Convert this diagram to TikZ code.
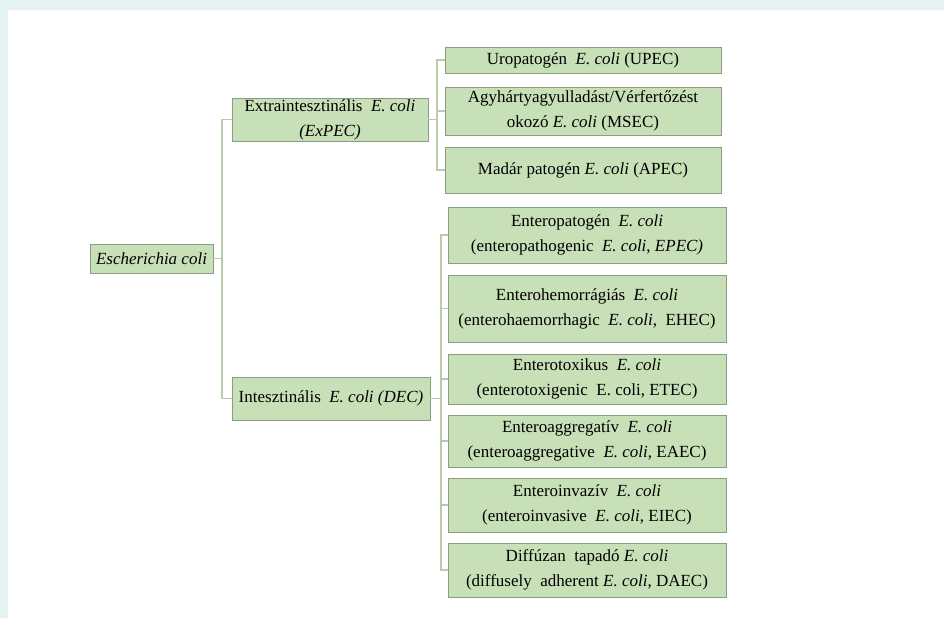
\documentclass[tikz,border=0pt]{standalone}
\usepackage{fontspec}
\setmainfont{Liberation Serif}
\usetikzlibrary{shadows}
\definecolor{bgband}{HTML}{E4F2F2}
\definecolor{boxfill}{HTML}{C8E0B7}
\definecolor{boxline}{HTML}{8C9C80}
\definecolor{linkc}{HTML}{B8CBAD}
\tikzset{
  gbox/.style={draw=boxline, line width=0.9pt, fill=boxfill, align=center, inner sep=0pt,
    font=\fontsize{17}{25}\selectfont,
    drop shadow={shadow xshift=1.2pt, shadow yshift=-1.2pt, opacity=0.18, fill=black}},
  link/.style={draw=linkc, line width=1.4pt}
}
\begin{document}
\begin{tikzpicture}[x=1pt,y=-1pt]
\useasboundingbox (0,0) rectangle (944,618);
\fill[white] (0,0) rectangle (944,618);
\fill[bgband] (0,0) rectangle (944,10);
\fill[bgband] (0,0) rectangle (8,618);

% nodes
\node[gbox, minimum width=123pt, minimum height=29pt] (ec) at (151.5,258.5) {\textit{Escherichia coli}};
\node[gbox, minimum width=196pt, minimum height=43pt] (ex) at (330,119.5) {Extraintesztinális\ \ \textit{E. coli}\\\textit{(ExPEC)}};
\node[gbox, minimum width=198pt, minimum height=43pt] (in) at (331,398.5) {Intesztinális\ \ \textit{E. coli (DEC)}};

\node[gbox, minimum width=276pt, minimum height=26pt] (u1) at (583,60) {Uropatogén\ \ \textit{E. coli} (UPEC)};
\node[gbox, minimum width=276pt, minimum height=48pt] (u2) at (583,111) {Agyhártyagyulladást/Vérfertőzést\\okozó \textit{E. coli} (MSEC)};
\node[gbox, minimum width=276pt, minimum height=46pt] (u3) at (583,170) {Madár patogén \textit{E. coli} (APEC)};

\node[gbox, minimum width=278pt, minimum height=56pt] (d1) at (587,235) {Enteropatogén\ \ \textit{E. coli}\\(enteropathogenic\ \ \textit{E. coli}, \textit{EPEC)}};
\node[gbox, minimum width=278pt, minimum height=67pt] (d2) at (587,308.5) {Enterohemorrágiás\ \ \textit{E. coli}\\(enterohaemorrhagic\ \ \textit{E. coli},\ \ EHEC)};
\node[gbox, minimum width=278pt, minimum height=50pt] (d3) at (587,379) {Enterotoxikus\ \ \textit{E. coli}\\(enterotoxigenic\ \ E. coli, ETEC)};
\node[gbox, minimum width=278pt, minimum height=52pt] (d4) at (587,441) {Enteroaggregatív\ \ \textit{E. coli}\\(enteroaggregative\ \ \textit{E. coli}, EAEC)};
\node[gbox, minimum width=278pt, minimum height=54pt] (d5) at (587,505) {Enteroinvazív\ \ \textit{E. coli}\\(enteroinvasive\ \ \textit{E. coli}, EIEC)};
\node[gbox, minimum width=278pt, minimum height=54pt] (d6) at (587,570) {Diffúzan\ \ tapadó \textit{E. coli}\\(diffusely\ \ adherent \textit{E. coli}, DAEC)};

% connectors
\begin{scope}[on background layer/.style={}]
\coordinate (t1) at (222,0);
\draw[link] (ec.east) -- (t1 |- ec.east);
\draw[link] (ex.west) -| (t1 |- in.west) -- (in.west);

\coordinate (t2) at (437,0);
\draw[link] (ex.east) -- (t2 |- ex.east);
\draw[link] (u1.west) -| (t2 |- u3.west) -- (u3.west);
\draw[link] (u2.west) -- (t2 |- u2.west);

\coordinate (t3) at (441,0);
\draw[link] (in.east) -- (t3 |- in.east);
\draw[link] (d1.west) -| (t3 |- d6.west) -- (d6.west);
\foreach \n in {d2,d3,d4,d5} \draw[link] (\n.west) -- (t3 |- \n.west);
\end{scope}
\end{tikzpicture}
\end{document}
